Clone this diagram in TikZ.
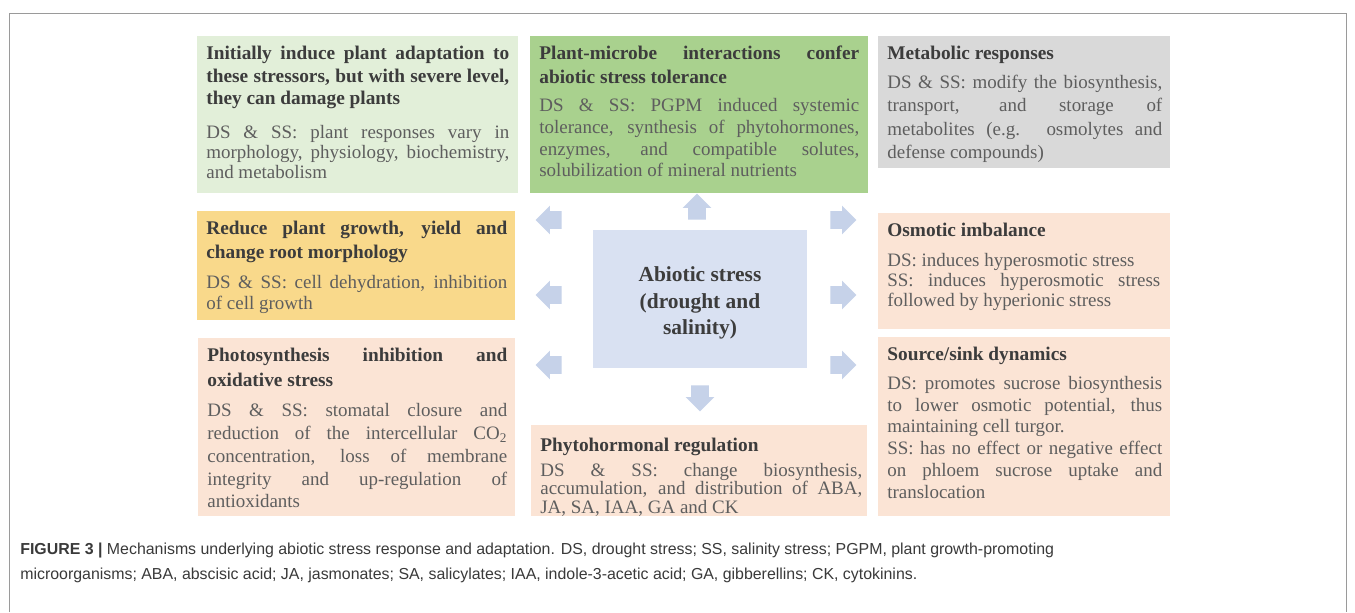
\documentclass[tikz,border=0pt]{standalone}
\usepackage{fontspec}
\setmainfont{Liberation Serif}
\newfontfamily\capfont{Liberation Sans}
\usetikzlibrary{shapes.arrows,positioning}
\definecolor{frame}{HTML}{9A9A9A}
\definecolor{ttlc}{HTML}{3C3C3C}
\definecolor{bodyc}{HTML}{5E5E5E}
\definecolor{lgreen}{HTML}{E2EFD9}
\definecolor{mgreen}{HTML}{A9D18E}
\definecolor{lgrey}{HTML}{D9D9D9}
\definecolor{lgold}{HTML}{F9D98B}
\definecolor{peach}{HTML}{FBE4D5}
\definecolor{sky}{HTML}{D9E1F2}
\definecolor{arrc}{HTML}{C6D2E9}
\definecolor{capc}{HTML}{3A3A3A}
\newcommand{\ttl}[1][13.6]{\fontsize{11}{#1}\selectfont\bfseries\color{ttlc}}
\tikzset{
  panel/.style={anchor=north west, inner sep=0pt, outer sep=0pt, draw=none},
  txt/.style={anchor=north west, inner xsep=0.18cm, inner ysep=0.2cm, align=justify,
    text=bodyc, font=\fontsize{10.8}{#1}\selectfont},
  txt/.default=11.3,
  blk/.style={single arrow, fill=arrc, draw=none, inner xsep=0pt, inner ysep=0.17cm,
    minimum width=0.56cm, minimum height=0.52cm, single arrow head extend=0.11cm,
    single arrow tip angle=90},
  captxt/.style={anchor=base west, inner sep=0pt, align=left, text=capc,
    font=\capfont\fontsize{9.05}{14.2}\selectfont},
}

\begin{document}
\begin{tikzpicture}[x=0.02cm, y=-0.02cm]
  \fill[white] (0,0) rectangle (1355,612);
  \useasboundingbox (0,0) rectangle (1355,612);
  \draw[frame, line width=0.5pt] (9,612) -- (9,13) -- (1346,13) -- (1346,612);

  % top row
  \node[panel, fill=lgreen, minimum width=6.42cm, minimum height=3.14cm] (adapt) at (197,36) {};
  \node[txt, text width=6.06cm] (adapt-t) at (adapt.north west) {{\ttl[12.8] Initially induce plant adaptation to\linebreak these stressors, but with severe level,\linebreak they can damage plants\par}\vspace{8pt}
    DS \& SS: plant responses vary in\linebreak morphology, physiology, biochemistry,\linebreak and metabolism};
  \node[panel, fill=mgreen, minimum width=6.76cm, minimum height=3.14cm] (microbe) at (530,36) {};
  \node[txt=12.3, text width=6.4cm] (microbe-t) at (microbe.north west) {{\ttl Plant-microbe interactions confer\linebreak abiotic stress tolerance\par}\vspace{3.6pt}
    DS \& SS: PGPM induced systemic\linebreak tolerance, synthesis of phytohormones,\linebreak enzymes, and compatible solutes,\linebreak solubilization of mineral nutrients};
  \node[panel, fill=lgrey, minimum width=5.84cm, minimum height=2.64cm] (metab) at (878,36) {};
  \node[txt=13.3, text width=5.5cm] (metab-t) at (metab.north west) {{\ttl Metabolic responses\par}\vspace{3.1pt}
    DS \& SS: modify the biosynthesis,\linebreak transport, and storage of\linebreak metabolites (e.g. osmolytes and\linebreak defense compounds)};

  % middle row
  \node[panel, fill=lgold, minimum width=6.36cm, minimum height=2.18cm] (growth) at (197,211) {};
  \node[txt=11.9, text width=6.02cm] (growth-t) at (growth.north west) {{\ttl Reduce plant growth, yield and\linebreak change root morphology\par}\vspace{5.1pt}
    DS \& SS: cell dehydration, inhibition\linebreak of cell growth};
  \node[panel, fill=sky, minimum width=4.28cm, minimum height=2.76cm] (stress) at (593,230) {};
  \node[align=center, text=ttlc, font=\fontsize{12.2}{15}\selectfont\bfseries, yshift=-0.08cm] (stress-t) at (stress.center) {Abiotic stress\\(drought and\\salinity)};
  \node[panel, fill=peach, minimum width=5.84cm, minimum height=2.32cm] (osmo) at (878,213) {};
  \node[txt, text width=5.46cm] (osmo-t) at (osmo.north west) {{\ttl Osmotic imbalance\par}\vspace{5.7pt}
    DS: induces hyperosmotic stress\par
    SS: induces hyperosmotic stress\linebreak followed by hyperionic stress};

  % bottom row
  \node[panel, fill=peach, minimum width=6.34cm, minimum height=3.56cm] (photo) at (198,338) {};
  \node[txt=13, text width=6.0cm] (photo-t) at (photo.north west) {{\ttl[14.2] Photosynthesis inhibition and\linebreak oxidative stress\par}\vspace{4pt}
    DS \& SS: stomatal closure and\linebreak reduction of the intercellular CO\textsubscript{2}\linebreak concentration, loss of membrane\linebreak integrity and up-regulation of\linebreak antioxidants};
  \node[panel, fill=peach, minimum width=6.72cm, minimum height=1.82cm] (hormone) at (531,425) {};
  \node[txt=10.8, text width=6.44cm, yshift=-0.06cm] (hormone-t) at (hormone.north west) {{\ttl Phytohormonal regulation\par}\vspace{3pt}
    DS \& SS: change biosynthesis,\linebreak accumulation, and distribution of ABA,\linebreak JA, SA, IAA, GA and CK};
  \node[panel, fill=peach, minimum width=5.84cm, minimum height=3.58cm] (sink) at (878,337) {};
  \node[txt=12.4, text width=5.5cm] (sink-t) at (sink.north west) {{\ttl Source/sink dynamics\par}\vspace{3.9pt}
    DS: promotes sucrose biosynthesis\linebreak to lower osmotic potential, thus\linebreak maintaining cell turgor.\par
    SS: has no effect or negative effect\linebreak on phloem sucrose uptake and\linebreak translocation};

  % block arrows round the centre
  \node[blk, rotate=90] (up) at (697,211) {};
  \node[blk, rotate=270] (down) at (700,394) {};
  \node[blk, rotate=180] (l1) at (553,220) {};
  \node[blk, rotate=180] (l2) at (553,295) {};
  \node[blk, rotate=180] (l3) at (553,365) {};
  \node[blk] (r1) at (839,220) {};
  \node[blk] (r2) at (839,295) {};
  \node[blk] (r3) at (839,365) {};

  \node[captxt] (caption) at (20,579) {{\bfseries FIGURE 3 \textbar} Mechanisms underlying abiotic stress response and adaptation. DS, drought stress; SS, salinity stress; PGPM, plant growth-promoting\\
    microorganisms; ABA, abscisic acid; JA, jasmonates; SA, salicylates; IAA, indole-3-acetic acid; GA, gibberellins; CK, cytokinins.};
\end{tikzpicture}
\end{document}
